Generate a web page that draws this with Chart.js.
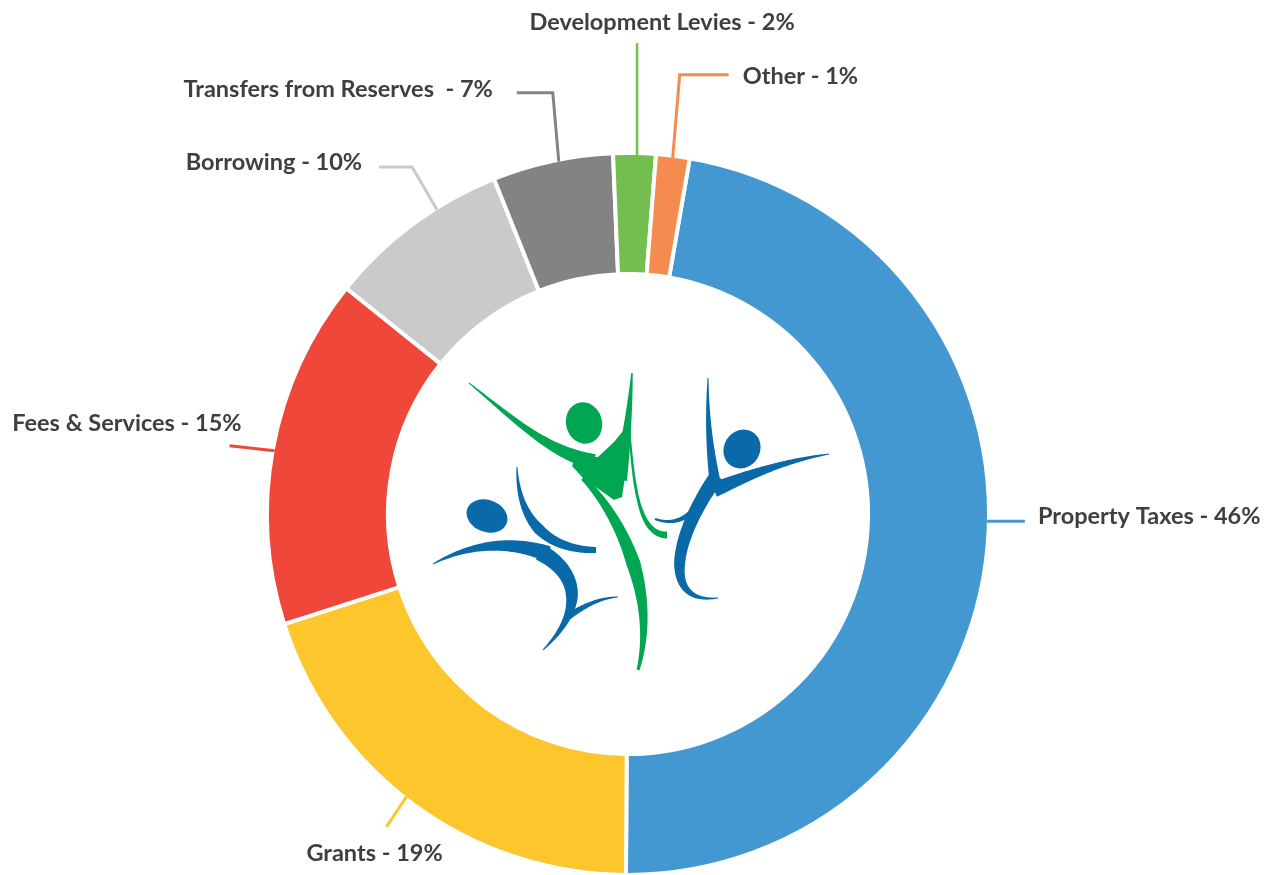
<!DOCTYPE html>
<html>
<head>
<meta charset="utf-8">
<script src="https://cdn.jsdelivr.net/npm/chart.js@4.4.1/dist/chart.umd.min.js"></script>
<style>
  html, body { margin: 0; padding: 0; background: #ffffff; overflow: hidden; }
  #wrap { width: 1273px; height: 875px; overflow: hidden; }
  canvas { display: block; }
</style>
</head>
<body>
<div id="wrap"><canvas id="c" width="1273" height="900"></canvas></div>
<script>
// ---- Data ----
const categories = ["Property Taxes", "Grants", "Fees & Services", "Borrowing",
                    "Transfers from Reserves ", "Development Levies", "Other"];
const sliceValues = [47.4, 20.0, 15.7, 8.2, 5.4, 1.9, 1.5];   // arc sizes as drawn
const labelPercents = ["46%", "19%", "15%", "10%", "7%", "2%", "1%"]; // printed labels
const sliceColors = ["#4398d1", "#fdc62d", "#ef4739", "#cacaca", "#838383", "#72bf4f", "#f58b4e"];

// ---- Label / leader-line styling (positions relative to the arc anchor) ----
const leaderSpecs = [
  { frac: 0.477, path: [[38, 0]],               text: [13, -5],  align: "left"   },
  { frac: 0.525, path: [[-20, 30]],             text: [-12, 27], align: "center" },
  { frac: 0.494, path: [[-45, -5]],             text: [12, -22], align: "right"  },
  { frac: 0.65,  path: [[-25, -43], [-58, -43]], text: [-17, -5], align: "right"  },
  { frac: 0.55,  path: [[-6, -69], [-42, -69]],  text: [-24, -3], align: "right"  },
  { frac: 0.56,  path: [[0, -112]],             text: [25, -21], align: "center" },
  { frac: 0.5,   path: [[7, -83], [56, -83]],    text: [14, 2],   align: "left"   }
];

const labelPlugin = {
  id: "leaderLabels",
  afterDatasetsDraw(chart) {
    const ctx = chart.ctx;
    const meta = chart.getDatasetMeta(0);
    ctx.save();
    meta.data.forEach((arc, i) => {
      const spec = leaderSpecs[i];
      const p = arc.getProps(["x", "y", "startAngle", "endAngle", "outerRadius"], true);
      const a = p.startAngle + (p.endAngle - p.startAngle) * spec.frac;
      const r = p.outerRadius - 2;
      const ax = p.x + Math.cos(a) * r;
      const ay = p.y + Math.sin(a) * r;
      ctx.strokeStyle = sliceColors[i];
      ctx.lineWidth = i === 5 ? 2.5 : 3;
      ctx.lineCap = "butt";
      ctx.lineJoin = "miter";
      ctx.beginPath();
      ctx.moveTo(ax, ay);
      let ex = ax, ey = ay;
      spec.path.forEach(([dx, dy]) => { ex = ax + dx; ey = ay + dy; ctx.lineTo(ex, ey); });
      ctx.stroke();
      ctx.fillStyle = "#3f3f41";
      ctx.font = "bold 23.5px Lato, 'Open Sans', sans-serif";
      ctx.textAlign = spec.align;
      ctx.textBaseline = "middle";
      ctx.fillText(categories[i] + " - " + labelPercents[i], ex + spec.text[0], ey + spec.text[1]);
    });
    ctx.restore();
  }
};

// ---- Centre logo (decoration) ----
function bez(p, t) {
  const u = 1 - t;
  return {
    x: u*u*u*p[0][0] + 3*u*u*t*p[1][0] + 3*u*t*t*p[2][0] + t*t*t*p[3][0],
    y: u*u*u*p[0][1] + 3*u*u*t*p[1][1] + 3*u*t*t*p[2][1] + t*t*t*p[3][1]
  };
}
function taper(ctx, pts, w0, wm, w1, ox, oy) {
  const P = pts.map(q => [q[0] + ox, q[1] + oy]);
  const N = 80, L = [], R = [];
  for (let i = 0; i <= N; i++) {
    const t = i / N;
    const a = bez(P, Math.max(0, t - 0.005)), b = bez(P, Math.min(1, t + 0.005));
    let tx = b.x - a.x, ty = b.y - a.y; const len = Math.hypot(tx, ty) || 1;
    tx /= len; ty /= len;
    const c = bez(P, t);
    const w = t < 0.5 ? w0 + (wm - w0) * (t / 0.5) : wm + (w1 - wm) * ((t - 0.5) / 0.5);
    L.push([c.x - ty * w / 2, c.y + tx * w / 2]);
    R.push([c.x + ty * w / 2, c.y - tx * w / 2]);
  }
  ctx.beginPath();
  ctx.moveTo(L[0][0], L[0][1]);
  L.forEach(q => ctx.lineTo(q[0], q[1]));
  for (let i = R.length - 1; i >= 0; i--) ctx.lineTo(R[i][0], R[i][1]);
  ctx.closePath();
  ctx.fill();
}
function ell(ctx, x, y, rx, ry, rot, ox, oy) {
  ctx.beginPath();
  ctx.ellipse(x + ox, y + oy, rx, ry, rot, 0, Math.PI * 2);
  ctx.fill();
}
const logoPlugin = {
  id: "centreLogo",
  afterDatasetsDraw(chart) {
    const ctx = chart.ctx;
    const arc = chart.getDatasetMeta(0).data[0];
    const ox = arc.x - 628, oy = arc.y - 514;
    ctx.save();
    // green figure
    ctx.fillStyle = "#00a651";
    ell(ctx, 584, 423, 18, 21, -0.25, ox, oy);
    taper(ctx, [[469, 383], [515, 420], [548, 452], [594, 462]], 1, 7, 16, ox, oy);
    taper(ctx, [[632, 373], [630, 405], [627, 435], [620, 480]], 1.5, 7, 14, ox, oy);
    ctx.beginPath();
    [[576, 457], [598, 457], [614, 442], [628, 425], [626, 470], [622, 497], [614, 500], [600, 490], [583, 478], [572, 466]]
      .forEach((q, k) => k ? ctx.lineTo(q[0] + ox, q[1] + oy) : ctx.moveTo(q[0] + ox, q[1] + oy));
    ctx.closePath(); ctx.fill();
    taper(ctx, [[583, 478], [625, 520], [657, 600], [638, 670]], 5, 14, 3, ox, oy);
    taper(ctx, [[629, 428], [634, 485], [638, 535], [667, 535]], 2, 3, 7, ox, oy);
    // right blue figure
    ctx.fillStyle = "#0a6aa9";
    ell(ctx, 742, 449, 18, 20, 0.55, ox, oy);
    taper(ctx, [[708, 378], [707, 420], [710, 450], [715, 482]], 1, 6, 11, ox, oy);
    taper(ctx, [[829, 454], [790, 460], [755, 472], [714, 490]], 1, 7, 15, ox, oy);
    taper(ctx, [[717, 476], [672, 540], [662, 605], [718, 598]], 15, 11, 1, ox, oy);
    taper(ctx, [[708, 482], [700, 512], [680, 528], [655, 519]], 7, 5, 2, ox, oy);
    // left blue figure
    ell(ctx, 487, 516, 21, 16, 0.35, ox, oy);
    taper(ctx, [[517, 467], [518, 522], [548, 550], [596, 550]], 1, 11, 6, ox, oy);
    taper(ctx, [[433, 564], [470, 544], [510, 540], [548, 554]], 1, 9, 16, ox, oy);
    taper(ctx, [[540, 552], [582, 575], [582, 612], [543, 650]], 17, 12, 1, ox, oy);
    taper(ctx, [[566, 618], [585, 605], [600, 598], [618, 597]], 7, 4, 1, ox, oy);
    ctx.restore();
  }
};

new Chart(document.getElementById("c"), {
  type: "doughnut",
  data: {
    labels: categories,
    datasets: [{
      data: sliceValues,
      backgroundColor: sliceColors,
      borderColor: "#ffffff",
      borderWidth: 4,
      hoverOffset: 0
    }]
  },
  options: {
    responsive: false,
    animation: false,
    events: [],
    rotation: 9.85,
    cutout: "66.5%",
    layout: { padding: { left: 265, right: 282, top: 151, bottom: 23 } },
    plugins: { legend: { display: false }, tooltip: { enabled: false } }
  },
  plugins: [logoPlugin, labelPlugin]
});
</script>
</body>
</html>
